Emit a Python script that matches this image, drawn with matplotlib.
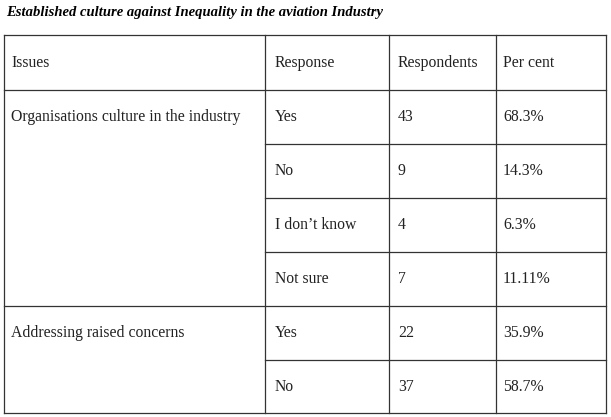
import matplotlib
matplotlib.use("Agg")
import matplotlib.pyplot as plt

title = "Established culture against Inequality in the aviation Industry"
headers = ["Issues", "Response", "Respondents", "Per cent"]
issues = ["Organisations culture in the industry", "Addressing raised concerns"]
issue_rows = [4, 2]
responses = ["Yes", "No", "I don\u2019t know", "Not sure", "Yes", "No"]
respondents = [43, 9, 4, 7, 22, 37]
percents = ["68.3%", "14.3%", "6.3%", "11.11%", "35.9%", "58.7%"]

W, H = 611, 417
fig = plt.figure(figsize=(W / 100, H / 100), dpi=100)
ax = fig.add_axes([0, 0, 1, 1])
ax.set_xlim(0, W)
ax.set_ylim(H, 0)
ax.axis("off")

font = dict(family="Liberation Serif", fontsize=11.3, color="#222222")
ax.text(6, 12, title, fontfamily="Liberation Serif", fontsize=10.5,
        fontweight="bold", fontstyle="italic", va="center", ha="left")

cols = [4, 265, 389, 496, 606]
top, hh, rh = 35, 55, 54
row_y = [top + hh + i * rh for i in range(len(responses) + 1)]
bottom = row_y[-1] - 1
lw = 0.9
c = "#333333"

for x in cols:
    ax.plot([x, x], [top, bottom], color=c, lw=lw)
ax.plot([cols[0], cols[-1]], [top, top], color=c, lw=lw)
ax.plot([cols[0], cols[-1]], [row_y[0], row_y[0]], color=c, lw=lw)
starts = set()
acc = 0
for n in issue_rows:
    acc += n
    starts.add(acc)
for i in range(1, len(responses) + 1):
    x0 = cols[0] if i in starts else cols[1]
    y = bottom if i == len(responses) else row_y[i]
    ax.plot([x0, cols[-1]], [y, y], color=c, lw=lw)

pad = [7, 10, 9, 7]
yh = top + hh / 2
for j, h in enumerate(headers):
    ax.text(cols[j] + pad[j], yh, h, va="center", ha="left", **font)

r = 0
for issue, n in zip(issues, issue_rows):
    ax.text(cols[0] + pad[0], row_y[r] + rh / 2, issue, va="center", ha="left", **font)
    r += n

for i in range(len(responses)):
    y = row_y[i] + rh / 2
    ax.text(cols[1] + pad[1], y, responses[i], va="center", ha="left", **font)
    ax.text(cols[2] + pad[2], y, str(respondents[i]), va="center", ha="left", **font)
    ax.text(cols[3] + pad[3], y, percents[i], va="center", ha="left", **font)

fig.savefig("out.png", dpi=100, facecolor="white")
